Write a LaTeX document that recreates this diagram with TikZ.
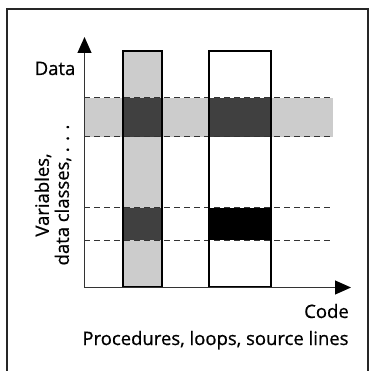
\documentclass[tikz,border=0pt]{standalone}
\usepackage{fontspec}
\setmainfont[FakeBold=0.7,AutoFakeBold=0.7]{Open Sans}
\usetikzlibrary{arrows.meta}
\begin{document}
\begin{tikzpicture}[x=1pt,y=-1pt,
  frame/.style={line width=1.3pt,black!85},
  axis/.style={line width=1pt,black!80,-{Triangle[length=16pt,width=14pt,fill=black,color=black]}},
  col/.style={line width=1.3pt,black},
  lightfill/.style={fill=black!20},
  darkfill/.style={fill=black!75},
  blackfill/.style={fill=black},
  dashline/.style={line width=1pt,black!80,dash pattern=on 6pt off 4pt},
  lbl/.style={font=\fontsize{18.5}{20}\selectfont\bfseries,inner sep=0pt}]
\useasboundingbox (0,0) rectangle (377,371);
% frame
\draw[frame] (7,371) -- (7,9) -- (368,9) -- (368,371);
% light band and column
\fill[lightfill] (84,98) rectangle (333,137);
\fill[lightfill] (123,51) rectangle (162,287);
% dark cells
\fill[darkfill] (123,98) rectangle (162,137);
\fill[darkfill] (209,98) rectangle (271,137);
\fill[darkfill] (123,208) rectangle (162,240);
\fill[blackfill] (209,208) rectangle (271,240);
% dashed lines
\draw[dashline] (84,98) -- (333,98);
\draw[dashline] (84,137) -- (333,137);
\draw[dashline] (84,208) -- (333,208);
\draw[dashline] (84,240) -- (333,240);
% columns
\draw[col] (123,287) rectangle (162,51);
\draw[col] (209,287) rectangle (271,51);
% axes
\coordinate (o) at (84.5,287.5);
\coordinate (ytip) at (84.5,37);
\coordinate (xtip) at (351,287.5);
\draw[axis] (o) -- (ytip);
\draw[axis] (o) -- (xtip);
% labels
\node[lbl,anchor=base] (data) at (55,75) {Data};
\node[lbl,rotate=90,align=center] (vars) at (53,195) {Variables,\\data classes, . . .};
\node[lbl,anchor=base east] (code) at (349,318) {Code};
\node[lbl,anchor=base] (proc) at (215.5,345) {Procedures, loops, source lines};
\end{tikzpicture}
\end{document}
